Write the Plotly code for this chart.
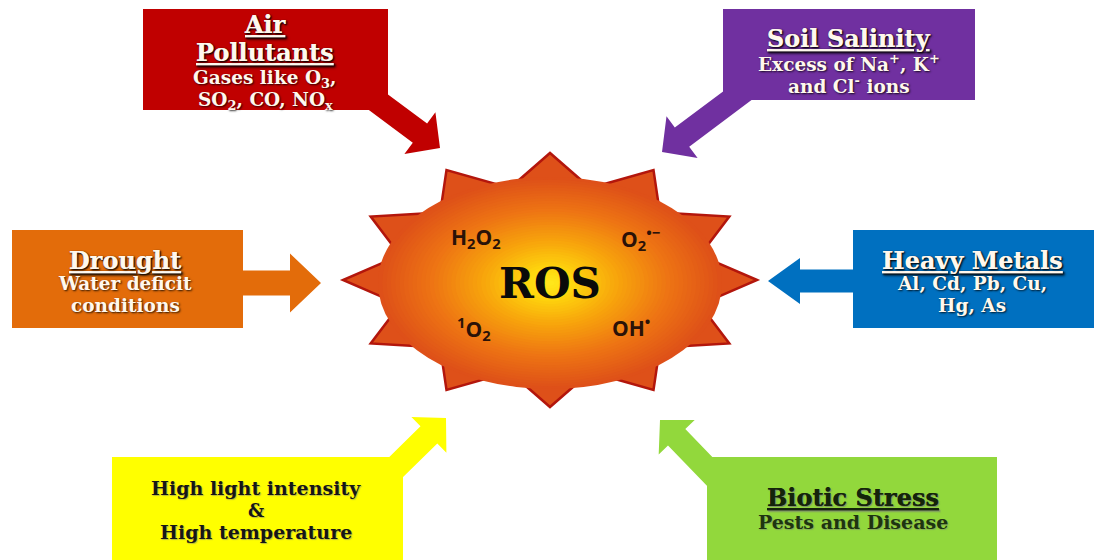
import numpy as np
import plotly.graph_objects as go

W, H = 1094, 560

# ---- boxes (stress factors) ----
box_labels = ["Air Pollutants", "Soil Salinity", "Drought", "Heavy Metals",
              "High light / temperature", "Biotic Stress"]
box_x0 = [143, 723, 12, 853, 112, 707]
box_x1 = [388, 975, 243, 1094, 403, 997]
box_y0 = [9, 9, 230, 230, 457, 457]
box_y1 = [110, 100, 328, 328, 560, 560]
box_colors = ["#C00000", "#7030A0", "#E36C0A", "#0070C0", "#FFFF00", "#92D83C"]

# ---- arrows (start -> tip) ----
arr_sx = [370, 745, 235, 860, 385, 716]
arr_sy = [96, 90, 283, 281, 478, 478]
arr_tx = [440, 662, 321, 768, 446, 660]
arr_ty = [148, 152, 283, 281, 418, 420]
arr_w = [24, 24, 25, 23, 24, 24]
arr_hw = [52, 52, 59, 46, 50, 50]
arr_hl = [25, 25, 31, 32, 24, 24]

# ---- ROS star ----
star_cx, star_cy = 550, 280
star_rx, star_ry = 207, 127
star_points = 12
star_inner = 0.75

fig = go.Figure()
shapes = []

def arrow_path(sx, sy, tx, ty, w, hw, hl):
    S = np.array([sx, sy], float)
    T = np.array([tx, ty], float)
    d = (T - S) / np.linalg.norm(T - S)
    n = np.array([-d[1], d[0]])
    B = T - hl * d
    pts = [S + n * w / 2, B + n * w / 2, B + n * hw / 2, T,
           B - n * hw / 2, B - n * w / 2, S - n * w / 2]
    return "M " + " L ".join(f"{p[0]:.1f},{p[1]:.1f}" for p in pts) + " Z"

for i in range(6):
    shapes.append(dict(type="path", xref="x", yref="y",
                       path=arrow_path(arr_sx[i], arr_sy[i], arr_tx[i], arr_ty[i],
                                       arr_w[i], arr_hw[i], arr_hl[i]),
                       fillcolor=box_colors[i], line=dict(width=0)))
for i in range(6):
    shapes.append(dict(type="rect", xref="x", yref="y",
                       x0=box_x0[i], x1=box_x1[i], y0=box_y0[i], y1=box_y1[i],
                       fillcolor=box_colors[i], line=dict(width=0)))

# star
ang = np.arange(2 * star_points) * np.pi / star_points
rad = np.where(np.arange(2 * star_points) % 2 == 0, 1.0, star_inner)
sx = star_cx + star_rx * rad * np.cos(ang)
sy = star_cy - star_ry * rad * np.sin(ang)
star_path = "M " + " L ".join(f"{a:.1f},{b:.1f}" for a, b in zip(sx, sy)) + " Z"
shapes.append(dict(type="path", xref="x", yref="y", path=star_path,
                   fillcolor="#DE5019", line=dict(color="#B3160C", width=2.5)))

# radial gradient inside star
stops_t = [1.0, 0.7, 0.4, 0.15, 0.0]
stops_c = [(222, 80, 25), (238, 116, 20), (248, 166, 12), (255, 214, 14), (255, 234, 30)]
N = 40
for k in range(N):
    t = 1.0 - k / N
    c = [int(np.interp(-t, [-s for s in stops_t], [cc[j] for cc in stops_c])) for j in range(3)]
    rx, ry = 172 * t, 106 * t
    shapes.append(dict(type="circle", xref="x", yref="y",
                       x0=star_cx - rx, x1=star_cx + rx, y0=star_cy + 3 - ry, y1=star_cy + 3 + ry,
                       fillcolor=f"rgb({c[0]},{c[1]},{c[2]})", line=dict(width=0)))

SERIF = "DejaVu Serif"
light = "#FFF8EE"
dark = "#161616"
shadow_dark = "1px 1px 2px rgba(0,0,0,0.8)"
shadow_light = "1px 1px 1px rgba(120,120,120,0.5)"

# text: x, y, text, size, color, underline
tx = [265, 265, 265, 265,
      849, 849, 849,
      125, 125, 125,
      972, 972, 972,
      256, 256, 256,
      853, 853]
ty = [24, 52, 79, 101,
      38, 63, 85,
      260, 283, 305,
      260, 283, 305,
      488, 510, 532,
      497, 522]
tt = ["Air", "Pollutants", "Gases like O<sub>3</sub>,", "SO<sub>2</sub>, CO, NO<sub>x</sub>",
      "Soil Salinity", "Excess of Na<sup>+</sup>, K<sup>+</sup>", "and Cl<sup>-</sup> ions",
      "Drought", "Water deficit", "conditions",
      "Heavy Metals", "Al, Cd, Pb, Cu,", "Hg, As",
      "High light intensity", "&", "High temperature",
      "Biotic Stress", "Pests and Disease"]
tsize = [24, 24, 18.5, 18.5,
         24, 18.5, 18.5,
         24, 18.5, 18.5,
         24, 18.5, 18.5,
         19, 18, 19,
         24, 19]
tcol = [light] * 13 + [dark] * 3 + ["#14240A", "#1E3410"]
tund = [True, True, False, False,
        True, False, False,
        True, False, False,
        True, False, False,
        False, False, False,
        True, False]

annotations = []
for i in range(len(tt)):
    annotations.append(dict(
        x=tx[i], y=ty[i], xref="x", yref="y", text=f"<b>{tt[i]}</b>", showarrow=False,
        xanchor="center", yanchor="middle",
        font=dict(family=SERIF, size=tsize[i], color=tcol[i],
                  shadow=shadow_dark if tcol[i] == light else shadow_light,
                  lineposition="under" if tund[i] else "none")))

# ROS labels
ros_x = [550, 476, 640, 474, 631]
ros_y = [283, 238, 238, 328, 326]
ros_t = ["ROS", "H<sub>2</sub>O<sub>2</sub>", "O<sub>2</sub><sup>•−</sup>",
         "<sup>1</sup>O<sub>2</sub>", "OH<sup>•</sup>"]
ros_size = [42, 21, 21, 21, 21]
ros_font = [SERIF, "Open Sans", "Open Sans", "Open Sans", "Open Sans"]
ros_col = ["#0A0A0A", "#2A1208", "#2A1208", "#2A1208", "#2A1208"]
for i in range(len(ros_t)):
    annotations.append(dict(
        x=ros_x[i], y=ros_y[i], xref="x", yref="y", text=f"<b>{ros_t[i]}</b>",
        showarrow=False, xanchor="center", yanchor="middle",
        font=dict(family=ros_font[i], size=ros_size[i], color=ros_col[i])))

fig.update_layout(
    width=W, height=H, margin=dict(l=0, r=0, t=0, b=0),
    paper_bgcolor="white", plot_bgcolor="white",
    xaxis=dict(range=[0, W], visible=False, fixedrange=True),
    yaxis=dict(range=[H, 0], visible=False, fixedrange=True),
    shapes=shapes, annotations=annotations, showlegend=False,
)
fig.write_html("out.html", config={"displayModeBar": False},
               post_script="document.body.style.margin='0px';")
